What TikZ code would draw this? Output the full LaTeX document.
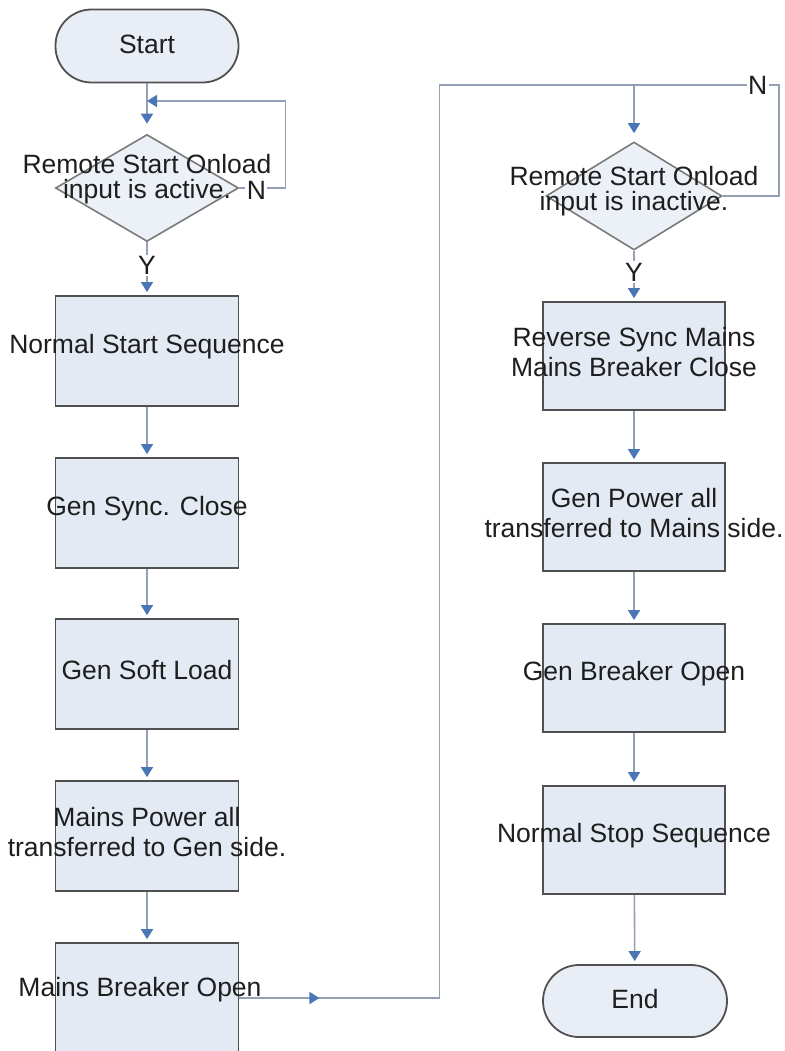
\documentclass[tikz,border=0pt]{standalone}
\usepackage{fontspec}
\setmainfont{Liberation Sans}
\usetikzlibrary{shapes.geometric,arrows.meta}

\definecolor{boxfill}{HTML}{E4EAF4}
\definecolor{boxline}{HTML}{505050}
\definecolor{decline}{HTML}{7A7A7A}
\definecolor{linkline}{HTML}{93A0B3}
\definecolor{tipblue}{HTML}{4A76B5}
\definecolor{txtcol}{HTML}{1E1E1E}

\begin{document}
\begin{tikzpicture}[
x=1pt, y=-1pt, % pixel grid, y pointing down
line/.style={draw=linkline, line width=1.6pt},
flow/.style={line, -{Triangle[width=12pt,length=10pt,color=tipblue]}, shorten >=3pt},
txt/.style={font=\fontsize{26.5}{30}\selectfont, text=txtcol, align=center, inner sep=0pt},
ptxt/.style={txt, yshift=4pt},
dtxt/.style={txt, font=\fontsize{26.5}{25}\selectfont},
lbl/.style={txt, fill=white, inner sep=1.5pt},
procbox/.style={rectangle, draw=boxline, fill=boxfill, line width=1.8pt,
  minimum width=183pt, minimum height=110pt, inner sep=0pt},
proc/.style={procbox, label={[ptxt]center:#1}},
term/.style={rectangle, rounded corners=36pt, draw=boxline, fill=boxfill!80, line width=1.8pt,
  minimum width=183pt, minimum height=73pt, inner sep=0pt,
  label={[txt,yshift=2pt]center:#1}},
dec/.style={diamond, draw=decline, fill=boxfill!70, line width=1.6pt,
  minimum width=183pt, minimum height=107pt, inner sep=0pt}
]

\useasboundingbox (0,0) rectangle (784,1051);
\clip (0,0) rectangle (784,1051);

% ================= Nodes =================

% Left column (x=147)
\node[term=Start] (start) at (147,46) {};
\node[dec, label={[dtxt,yshift=9pt]center:Remote Start Onload\\input is active.}] (dl) at (147,188) {};
\node[proc=Normal Start Sequence] (nss) at (147,351) {};
\node[proc=Gen Sync. Close] (gsc) at (147,513) {};
\node[proc=Gen Soft Load] (gsl) at (147,674) {};
\node[proc={Mains Power all\\transferred to Gen side.}] (mpa) at (147,836) {};
\node[procbox, label={[txt, xshift=-7pt, yshift=8pt]center:Mains Breaker Open}] (mbo) at (147,998) {};

% Right column (x=634)
\node[dec, minimum width=176pt, minimum height=108pt,
  label={[dtxt,yshift=5pt]center:Remote Start Onload\\input is inactive.}] (dr) at (634,196) {};
\node[proc={Reverse Sync Mains\\Mains Breaker Close}, minimum width=182pt, minimum height=108pt] (rsm) at (634,356) {};
\node[proc={Gen Power all\\transferred to Mains side.}, minimum width=182pt, minimum height=108pt] (gpa) at (634,517) {};
\node[proc=Gen Breaker Open, minimum width=182pt, minimum height=108pt] (gbo) at (634,678) {};
\node[proc=Normal Stop Sequence, minimum width=182pt, minimum height=108pt] (nst) at (634,840) {};
\node[term=End, minimum width=184pt, minimum height=72pt] (fin) at (635,1001) {};

% junctions
\coordinate (lj) at (147,101);
\coordinate (rj) at (634,85);

% ================= Edges =================

% Left column
\draw[flow, shorten >=10pt] (start) -- (dl);
\draw[flow, shorten >=0pt] (dl.east) -- node[lbl, pos=.37, yshift=-2pt]{N} ++(46,0) |- (lj);
\draw[flow] (dl.south) -- node[lbl, pos=.44]{Y} (nss.north);
\draw[flow] (nss) -- (gsc);
\draw[flow] (gsc) -- (gsl);
\draw[flow] (gsl) -- (mpa);
\draw[flow] (mpa) -- (mbo);

% Crossing over to the right column
\draw[line] (mbo.east) -- ++(200,0) |- (rj);
\draw[flow, shorten >=0pt] (mbo.east) -- ++(80,0);

% Right column
\draw[flow, shorten >=8pt] (rj) -- (dr);
\draw[line] (dr.east) -- ++(56,0) |- node[lbl, pos=.573]{N} (rj);
\draw[flow] (dr.south) -- node[lbl, pos=.42]{Y} (rsm.north);
\draw[flow] (rsm) -- (gpa);
\draw[flow] (gpa) -- (gbo);
\draw[flow] (gbo) -- (nst);
\draw[flow] (nst) -- (fin);

\end{tikzpicture}
\end{document}
